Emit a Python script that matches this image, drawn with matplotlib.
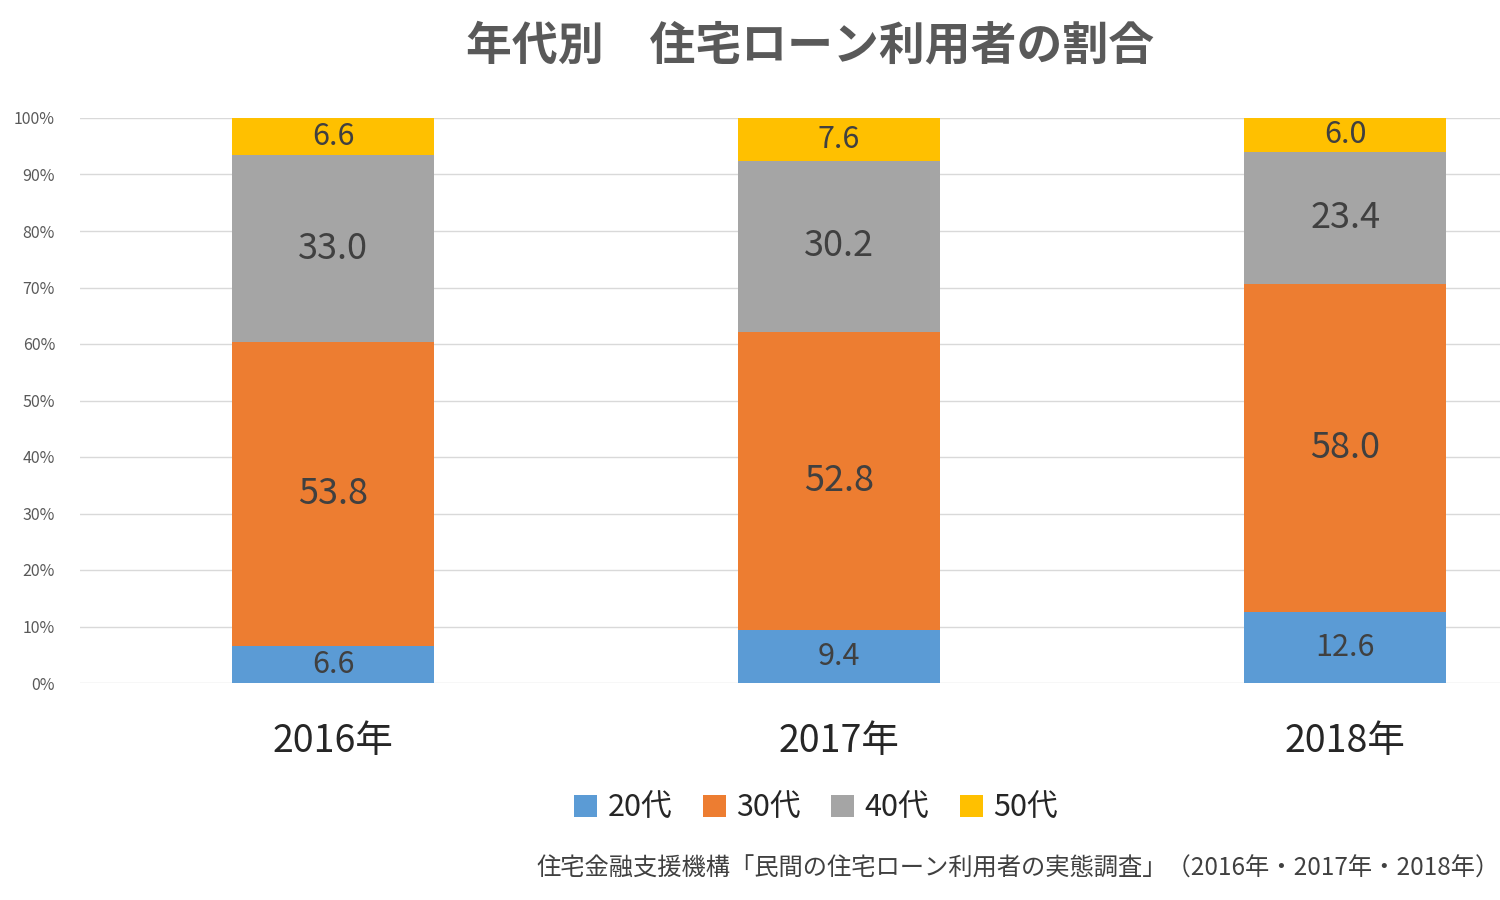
import matplotlib
matplotlib.use("Agg")
import matplotlib.pyplot as plt
import numpy as np
from matplotlib.patches import Patch

plt.rcParams['font.family'] = ['Noto Sans CJK JP', 'DejaVu Sans']

years = ["2016年", "2017年", "2018年"]
series_names = ["20代", "30代", "40代", "50代"]
v20 = [6.6, 9.4, 12.6]
v30 = [53.8, 52.8, 58.0]
v40 = [33.0, 30.2, 23.4]
v50 = [6.6, 7.6, 6.0]
series_values = [v20, v30, v40, v50]
colors = ["#5B9BD5", "#ED7D31", "#A5A5A5", "#FFC000"]
label_sizes = [22, 26, 26, 22]

fig = plt.figure(figsize=(15, 9), dpi=100)
ax = fig.add_axes([80/1500, 1 - 683/900, 1 - 80/1500, (683 - 118)/900])

x = np.arange(len(years))
bottom = np.zeros(len(years))
for vals, col, fs in zip(series_values, colors, label_sizes):
    vals = np.array(vals)
    ax.bar(x, vals, width=0.4, bottom=bottom, color=col, zorder=3)
    for xi, b, v in zip(x, bottom, vals):
        ax.text(xi, b + v / 2, f"{v:.1f}", ha="center", va="center",
                fontsize=fs, color="#404040", zorder=4)
    bottom += vals

ax.set_xlim(-0.5, 2.306)
ax.set_ylim(0, 100)
ax.set_yticks(np.arange(0, 101, 10))
ax.set_yticklabels([f"{t}%" for t in range(0, 101, 10)], fontsize=11.5, color="#595959")
ax.yaxis.grid(True, color="#D9D9D9", linewidth=1, zorder=0)
ax.tick_params(axis="y", length=0, pad=18)
ax.tick_params(axis="x", length=0, pad=28)
ax.set_xticks(x)
ax.set_xticklabels(years, fontsize=27, color="#262626")
for s in ax.spines.values():
    s.set_visible(False)

fig.text(0.54, 0.948, "年代別　住宅ローン利用者の割合", ha="center", va="center",
         fontsize=33, fontweight="bold", color="#595959")

handles = [Patch(facecolor=c, edgecolor="none") for c in colors]
fig.legend(handles, series_names, loc="center", bbox_to_anchor=(0.544, 0.102),
           ncol=4, frameon=False, fontsize=22, handlelength=0.75, handleheight=0.75,
           handletextpad=0.35, columnspacing=1.0, labelcolor="#262626")

fig.text(1.0, 0.035, "住宅金融支援機構「民間の住宅ローン利用者の実態調査」（2016年・2017年・2018年）",
         ha="right", va="center", fontsize=17.5, color="#404040")

fig.savefig("out.png", dpi=100, facecolor="white")
